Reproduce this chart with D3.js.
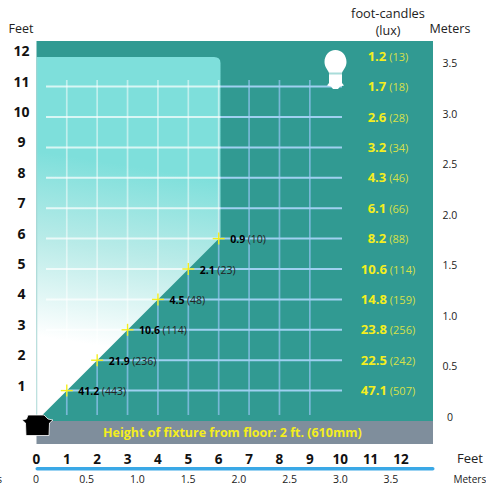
<!DOCTYPE html>
<html><head><meta charset="utf-8">
<script src="https://cdn.jsdelivr.net/npm/d3@7"></script>
<style>html,body{margin:0;padding:0;background:#fff;overflow:hidden}svg{display:block}text{font-family:"Open Sans",sans-serif}</style>
</head><body><div id="c"></div>
<script>
const feetTicks=[1,2,3,4,5,6,7,8,9,10,11,12];
const bottomFeet=[0,1,2,3,4,5,6,7,8,9,10,11,12];
const meterTicks=[0,0.5,1,1.5,2,2.5,3,3.5];
const meterLabels=["0","0.5","1.0","1.5","2.0","2.5","3.0","3.5"];
const centerFc=["47.1","22.5","23.8","14.8","10.6","8.2","6.1","4.3","3.2","2.6","1.7","1.2"];
const centerLux=[507,242,256,159,114,88,66,46,34,28,18,13];
const edgeFeet=[1,2,3,4,5,6];
const edgeFc=["41.2","21.9","10.6","4.5","2.1","0.9"];
const edgeLux=[443,236,114,48,23,10];
const gridFeet=[1,2,3,4,5,6,7,8,9];
const rowFeet=[1,2,3,4,5,6,7,8,9,10,11];

const W=486,H=487;
const svg=d3.select("#c").append("svg").attr("width",W).attr("height",H);
const x=d3.scaleLinear().domain([0,12]).range([36.4,401]);
const y=d3.scaleLinear().domain([0,12]).range([421,56.2]);
const mx=d3.scaleLinear().domain([0,3.5]).range([36,391]);
const my=d3.scaleLinear().domain([0,3.5]).range([417,63]);
const TEAL="#319a92",YEL="#f4ee1e";

const defs=svg.append("defs");
const g=defs.append("linearGradient").attr("id","lg").attr("gradientUnits","userSpaceOnUse")
  .attr("x1",0).attr("x2",30).attr("y1",340).attr("y2",150);
[[0,"#ffffff"],[0.05,"#ffffff"],[0.55,"#b9ebe8"],[1,"#7edfdb"]].forEach(s=>g.append("stop").attr("offset",s[0]).attr("stop-color",s[1]));
const lightPath=`M36.5,57 H214 Q220.5,57 220.5,63 V${y(6)-1.7} L${x(0)},${y(0)} Z`;
defs.append("clipPath").attr("id","lc").append("path").attr("d",lightPath);
defs.append("clipPath").attr("id","dc").append("path").attr("d",`M${x(0)},${y(0)} L${x(6)},${y(6)} L220.5,57 V41 H433 V421 H36 Z`);

svg.append("rect").attr("x",36.5).attr("y",41).attr("width",396.5).attr("height",380).attr("fill",TEAL);
svg.append("rect").attr("x",36.5).attr("y",421).attr("width",396.5).attr("height",23).attr("fill","#7f8e9c");
svg.append("path").attr("d",lightPath).attr("fill","url(#lg)");
svg.append("line").attr("x1",36.8).attr("x2",36.8).attr("y1",57).attr("y2",418).attr("stroke","#a9d8d6").attr("stroke-width",.8);

function grid(parent,vc,hc,op,hop){
  parent.selectAll("line.v").data(gridFeet).join("line").attr("class","v")
    .attr("x1",d=>x(d)).attr("x2",d=>x(d)).attr("y1",80).attr("y2",415)
    .attr("stroke",vc).attr("stroke-width",1.7).attr("opacity",op);
  parent.selectAll("line.h").data(rowFeet).join("line").attr("class","h")
    .attr("x1",46).attr("x2",342).attr("y1",d=>y(d)).attr("y2",d=>y(d))
    .attr("stroke",hc).attr("stroke-width",2).attr("opacity",hop);
}
grid(svg.append("g").attr("clip-path","url(#dc)"),"#78b8d6","#9fd0f0",1,1);
grid(svg.append("g").attr("clip-path","url(#lc)"),"#ffffff","#ffffff",0.5,0.7);

const cr=svg.append("g").attr("stroke",YEL).attr("stroke-width",1.4);
edgeFeet.forEach(d=>{
  cr.append("line").attr("x1",x(d)-6).attr("x2",x(d)+6).attr("y1",y(d)).attr("y2",y(d));
  cr.append("line").attr("x1",x(d)).attr("x2",x(d)).attr("y1",y(d)-6).attr("y2",y(d)+6);
});
const el=svg.append("g").selectAll("text").data(edgeFeet).join("text")
  .attr("x",d=>x(d)+11.5).attr("y",d=>y(d)+4.5).attr("font-size",10.5).attr("fill","#000");
el.append("tspan").attr("font-weight",700).text((d,i)=>edgeFc[i]);
el.append("tspan").attr("fill","#222").attr("dx",2.5).attr("font-size",10.5).text((d,i)=>`(${edgeLux[i]})`);
const cl=svg.append("g").selectAll("text").data(feetTicks).join("text")
  .attr("x",388).attr("y",d=>y(d)+4.6).attr("text-anchor","middle").attr("fill",YEL).attr("font-size",13);
cl.append("tspan").attr("font-weight",700).text((d,i)=>centerFc[i]);
cl.append("tspan").attr("dx",3).attr("font-size",11).attr("fill","#d6e04a").text((d,i)=>`(${centerLux[i]})`);
svg.append("g").selectAll("text").data(feetTicks).join("text")
  .attr("x",21.5).attr("y",d=>y(d)).attr("text-anchor","middle")
  .attr("font-size",14).attr("font-weight",700).attr("fill","#111").text(d=>d);
svg.append("text").attr("x",21).attr("y",33).attr("text-anchor","middle").attr("font-size",12.5).attr("fill","#222").text("Feet");
svg.append("text").attr("x",388).attr("y",18).attr("text-anchor","middle").attr("font-size",12.8).attr("fill","#222").text("foot-candles");
svg.append("text").attr("x",388).attr("y",35).attr("text-anchor","middle").attr("font-size",12.5).attr("fill","#222").text("(lux)");
svg.append("text").attr("x",450).attr("y",33).attr("text-anchor","middle").attr("font-size",12.5).attr("fill","#222").text("Meters");
svg.append("g").selectAll("text").data(meterTicks).join("text")
  .attr("x",450).attr("y",d=>my(d)+4).attr("text-anchor","middle").attr("font-size",10.5).attr("fill","#222").text((d,i)=>meterLabels[i]);
svg.append("text").attr("x",103).attr("y",437).attr("font-size",12.5).attr("font-weight",700).attr("fill",YEL).text("Height of fixture from floor: 2 ft. (610mm)");
svg.append("g").selectAll("text").data(bottomFeet).join("text")
  .attr("x",d=>x(d)).attr("y",464).attr("text-anchor","middle").attr("font-size",13.5).attr("font-weight",700).attr("fill","#111").text(d=>d);
svg.append("text").attr("x",470).attr("y",463).attr("text-anchor","middle").attr("font-size",13).attr("fill","#222").text("Feet");
svg.append("rect").attr("x",35.5).attr("y",467).attr("width",399).attr("height",3.6).attr("rx",1.8).attr("fill","#3aa8e6");
svg.append("g").selectAll("text").data(meterTicks).join("text")
  .attr("x",d=>mx(d)).attr("y",483).attr("text-anchor","middle").attr("font-size",10.5).attr("fill","#222").text((d,i)=>meterLabels[i]);
svg.append("text").attr("x",453.5).attr("y",483).attr("font-size",10).attr("fill","#222").text("Meters");
svg.append("text").attr("x",2).attr("y",483).attr("text-anchor","end").attr("font-size",10).attr("fill","#222").text("Meters");
svg.append("path").attr("d","M335.4,50 C342,50 346.5,55.5 346.5,62 C346.5,67 343,70 342,73 V83 L344,85.5 L340,86.5 L338,89 H333 L331,86.5 L327,85.5 L329,83 V73 C328,70 324.5,67 324.5,62 C324.5,55.5 329,50 335.4,50 Z").attr("fill","#fff");
svg.append("rect").attr("x",329).attr("y",72.5).attr("width",13).attr("height",2).attr("fill","#a9dcd9");
svg.append("path").attr("d","M28,415 H44 L48,419 L53,420 L49.5,423 L49,435.5 H26 L25.5,423 L22,420 L26.5,419 Z").attr("fill","#000").attr("stroke","#fff").attr("stroke-width",.8);
</script></body></html>
